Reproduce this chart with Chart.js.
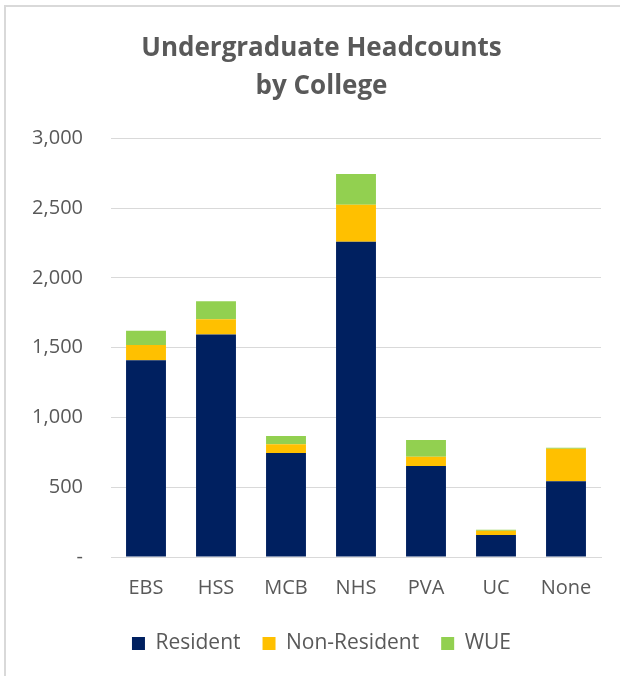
<!DOCTYPE html>
<html>
<head>
<meta charset="utf-8">
<script src="https://cdn.jsdelivr.net/npm/chart.js@4.4.1/dist/chart.umd.min.js"></script>
<style>
  body { margin: 0; background: #fff; }
  #frame { position: absolute; left: 4px; top: 5px; width: 700px; height: 700px;
           border-left: 2px solid #d9d9d9; border-top: 2px solid #d9d9d9; }
  #wrap { position: absolute; left: 0; top: 0; width: 620px; height: 676px; }
</style>
</head>
<body>
<div id="frame"></div>
<div id="wrap"><canvas id="chart"></canvas></div>
<script>
const colleges = ["EBS", "HSS", "MCB", "NHS", "PVA", "UC", "None"];
const resident = [1411, 1594, 745, 2260, 653, 157, 543];
const nonResident = [108, 110, 64, 264, 65, 31, 233];
const wue = [103, 129, 58, 221, 120, 8, 7];
const yTicks = [0, 500, 1000, 1500, 2000, 2500, 3000];

const grey = "#595959";
const font = "'Open Sans', sans-serif";

const data = {
  labels: colleges,
  datasets: [
    { label: "Resident", data: resident, backgroundColor: "#002060" },
    { label: "Non-Resident", data: nonResident, backgroundColor: "#FFC000" },
    { label: "WUE", data: wue, backgroundColor: "#92D050" },
  ],
};

// y tick labels stick out left of the padded area; widen their clip box
const unclipY = {
  id: "unclipY",
  afterLayout: (chart) => { chart.scales.y.left = 0; },
};

const config = {
  type: "bar",
  data: data,
  plugins: [unclipY],
  options: {
    responsive: true,
    maintainAspectRatio: false,
    animation: false,
    barPercentage: 0.57,
    categoryPercentage: 1,
    // left padding shifts title/legend centre; y axis width keeps plot at x=111
    layout: { padding: { left: 42, right: 19, top: 0, bottom: 12 } },
    plugins: {
      title: {
        display: true,
        text: ["Undergraduate Headcounts", "by College"],
        color: grey,
        font: { family: font, size: 26, weight: "bold", lineHeight: 1.47 },
        padding: { top: 29, bottom: 33 },
      },
      legend: {
        position: "bottom",
        labels: {
          color: grey,
          font: { family: font, size: 21 },
          boxWidth: 13,
          boxHeight: 13,
          padding: 22,
        },
      },
      tooltip: { enabled: false },
    },
    scales: {
      x: {
        stacked: true,
        grid: { display: false },
        border: { color: "#d9d9d9", width: 1 },
        ticks: { color: grey, font: { family: font, size: 20 }, padding: 11 },
      },
      y: {
        stacked: true,
        min: 0,
        max: 3000,
        afterBuildTicks: (axis) => { axis.ticks = yTicks.map((v) => ({ value: v })); },
        afterFit: (axis) => { axis.width = 69; },
        grid: { color: "#d9d9d9", drawTicks: false },
        border: { display: false },
        ticks: {
          color: grey,
          font: { family: font, size: 20 },
          padding: 28,
          callback: (v) => (v === 0 ? "-" : v.toLocaleString("en-US")),
        },
      },
    },
  },
};

new Chart(document.getElementById("chart"), config);
</script>
</body>
</html>
